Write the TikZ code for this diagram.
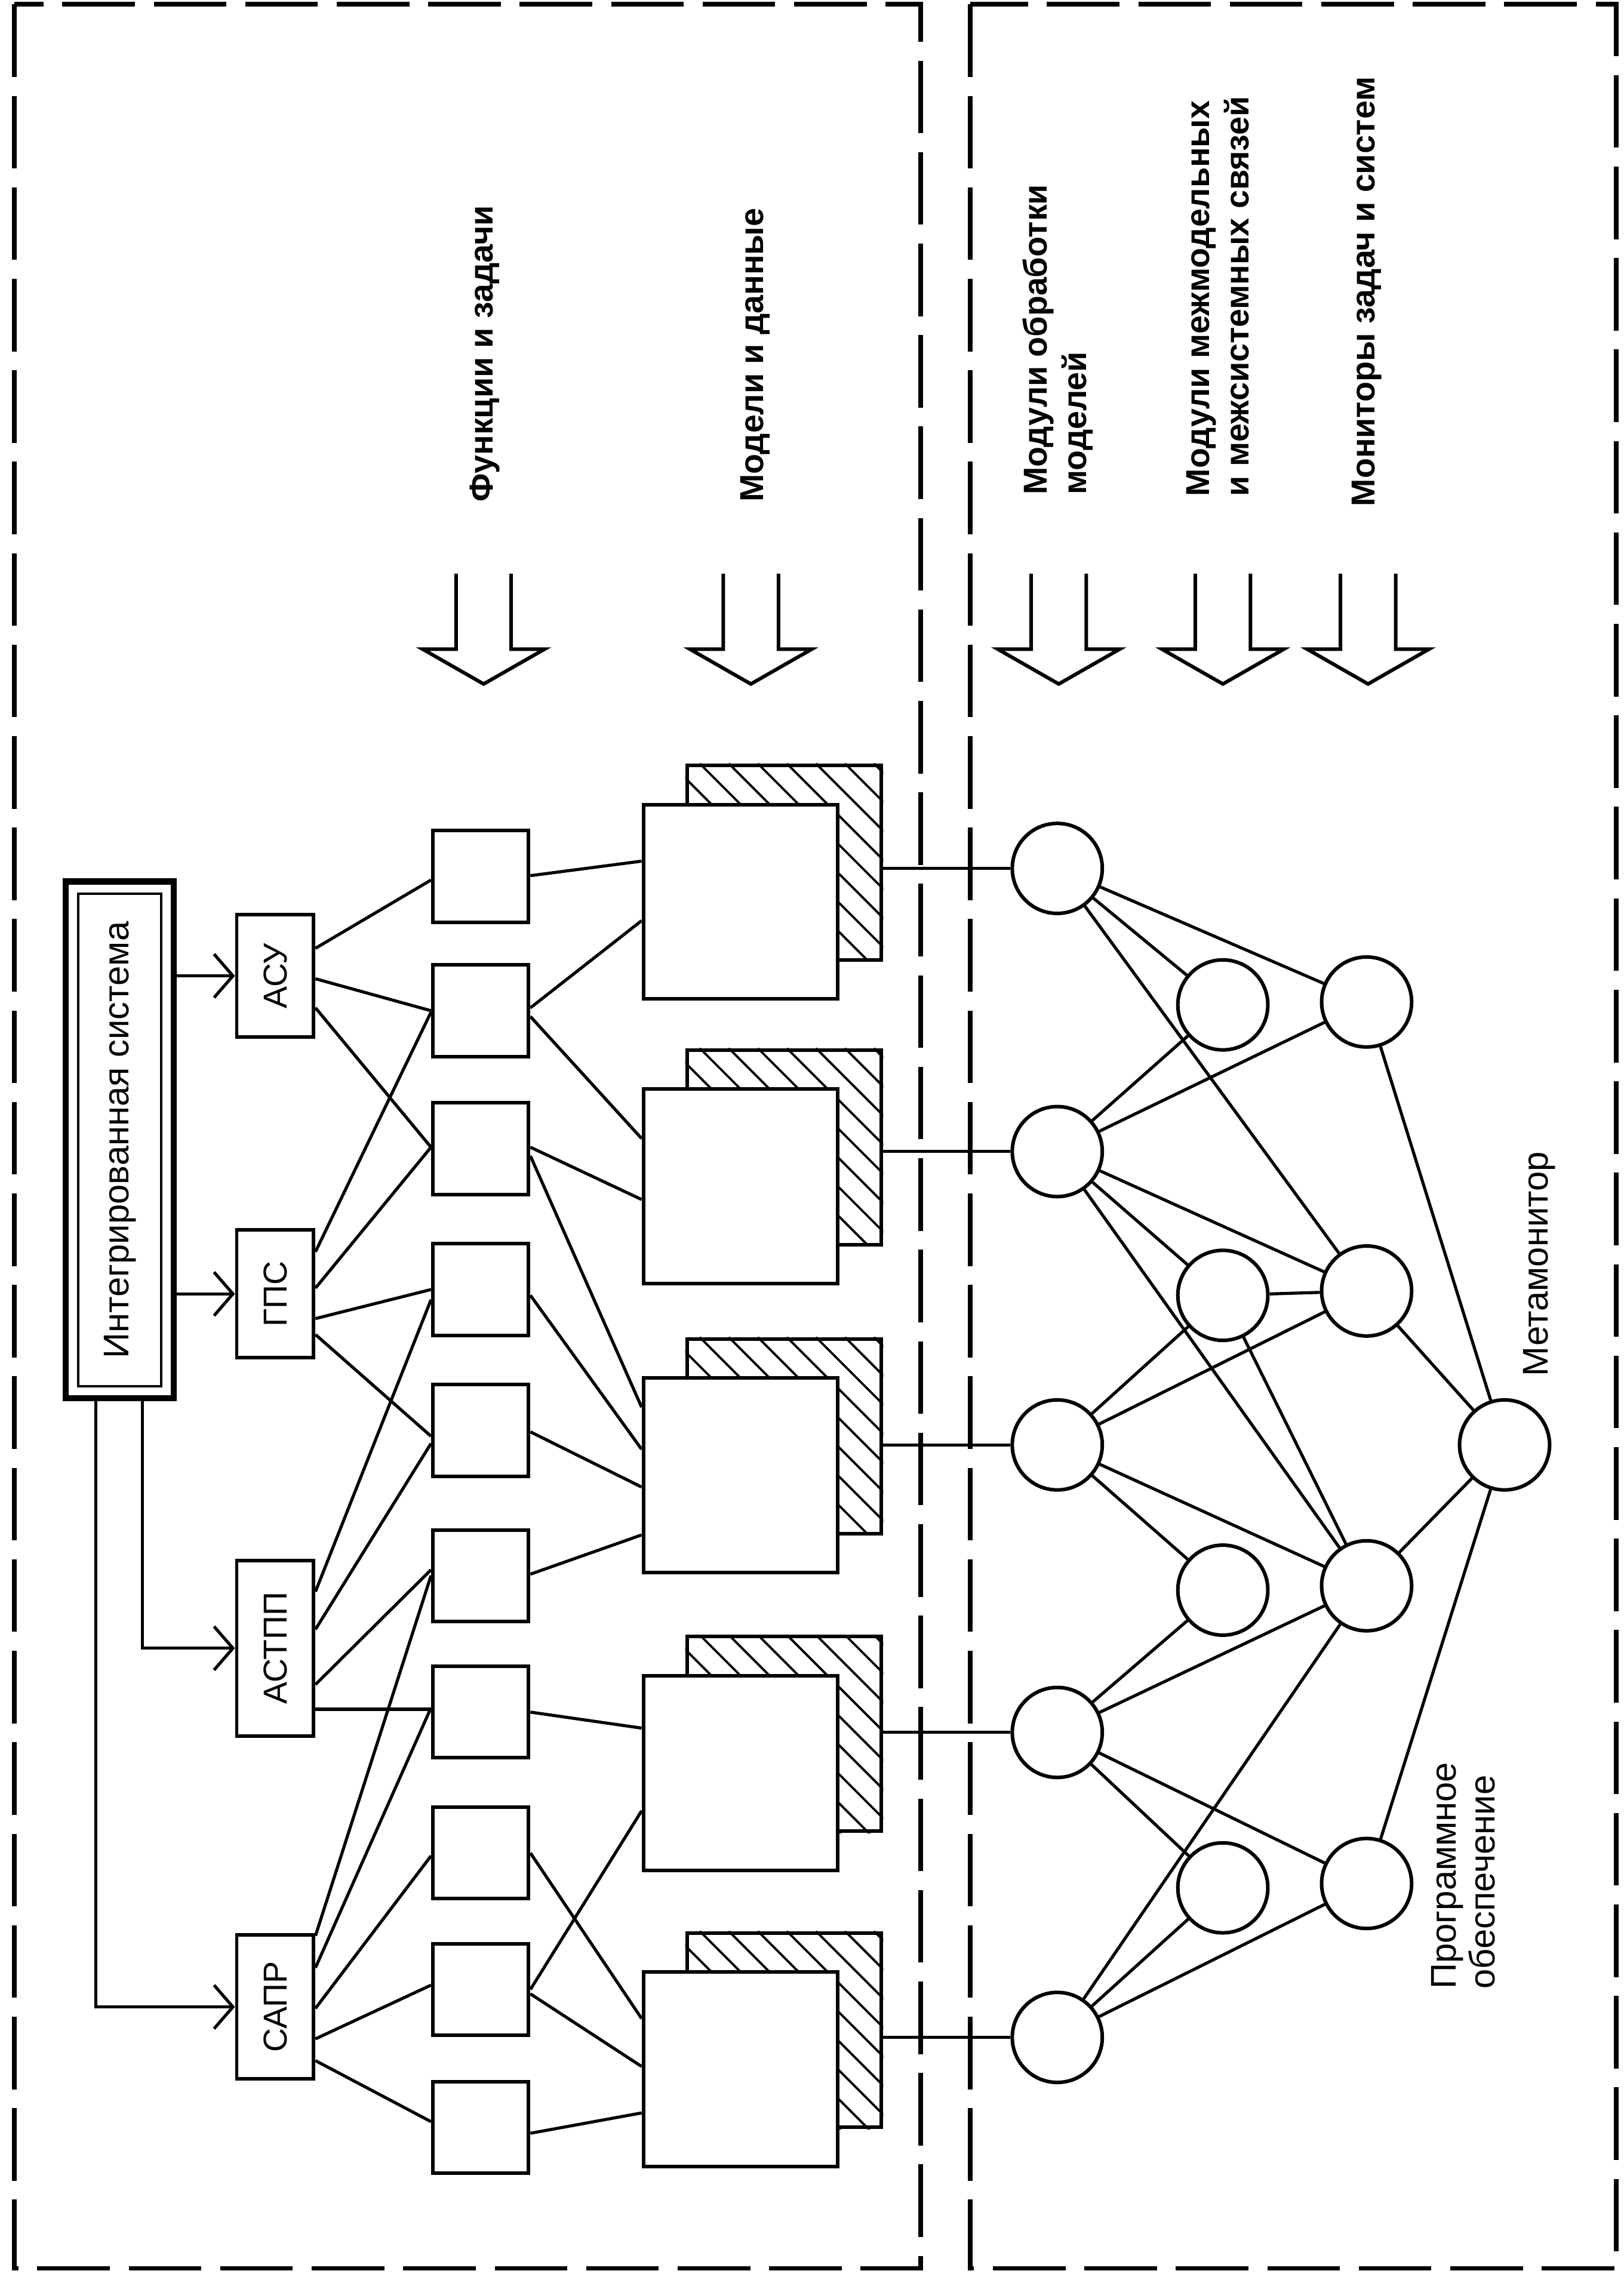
\documentclass[tikz,border=0pt]{standalone}
\usepackage{graphicx}
\usepackage{fontspec}
\setmainfont{Liberation Sans}
\usetikzlibrary{arrows.meta,calc}
\begin{document}
\begin{tikzpicture}[x=0.02cm,y=-0.02cm,
  frame/.style={line width=1.8pt, dash pattern=on 1.0cm off 0.26cm},
  conn/.style={line width=1.2pt},
  sysarrow/.style={conn, -{Straight Barb[length=0.26cm,width=0.6cm,line width=1.2pt]}},
  sysbox/.style={draw, line width=1.4pt, minimum width=1.06cm, inner sep=0pt, font=\fontsize{13pt}{15pt}\selectfont},
  fbox/.style={draw, line width=1.4pt, minimum width=1.32cm, minimum height=1.26cm, inner sep=0pt},
  modelbox/.style={draw, line width=1.4pt, minimum width=2.68cm, minimum height=2.68cm, inner sep=0pt},
  hatch/.style={line width=0.9pt},
  circ/.style={draw, circle, line width=1.4pt, minimum size=1.24cm, inner sep=0pt},
  blockarrow/.style={line width=1.4pt, line join=miter},
  lab/.style={rotate=90, anchor=west, inner sep=0pt, font=\bfseries\fontsize{13pt}{15.4pt}\selectfont},
  labr/.style={rotate=90, anchor=west, inner sep=0pt, font=\fontsize{14pt}{15.4pt}\selectfont}
]
\useasboundingbox (0,0) rectangle (1118,1568);

% dashed frames
\draw[frame] (10,3) rectangle (634,1562);
\draw[frame] (668,3) rectangle (1113,1562);

% integrated system
\node[draw, line width=2.4pt, minimum width=1.49cm, minimum height=7.12cm, inner sep=0pt] (IS) at (82.5,785) {};
\node[draw, line width=0.9pt, minimum width=1.14cm, minimum height=6.78cm, inner sep=0pt,
      font=\fontsize{14pt}{16pt}\selectfont] (ISin) at (82.5,785) {\rotatebox{90}{Интегрированная система}};

% system boxes
\node[sysbox, minimum height=1.68cm] (ASU) at (189.5,672) {\rotatebox{90}{АСУ}};
\node[sysbox, minimum height=1.76cm] (GPS) at (189.5,891) {\rotatebox{90}{ГПС}};
\node[sysbox, minimum height=2.42cm] (ASTPP) at (189.5,1135) {\rotatebox{90}{АСТПП}};
\node[sysbox, minimum height=1.98cm] (SAPR) at (189.5,1382) {\rotatebox{90}{САПР}};

\draw[sysarrow] (IS.east |- ASU) -- (ASU.west);
\draw[sysarrow] (IS.east |- GPS) -- (GPS.west);
\draw[sysarrow] (98,0 |- IS.south) |- (ASTPP.west);
\draw[sysarrow] (66,0 |- IS.south) |- (SAPR.west);

% function boxes
\foreach \i/\y in {1/603.5,2/696,3/791,4/888,5/985,6/1085,7/1179,8/1276,9/1370,10/1465}
  \node[fbox] (F\i) at (331,\y) {};

% model boxes
\foreach \i/\y in {1/621,2/817,3/1016,4/1221,5/1425}{
  \node[modelbox] (Mb\i) at (540,\y-27) {};
  \begin{scope}
    \clip (Mb\i.south west) rectangle (Mb\i.north east);
    \foreach \k in {0,...,16}
      \draw[hatch] ($(Mb\i.north west)+(\k*20-150,0)$) -- ++(170,170);
  \end{scope}
  \node[modelbox, fill=white] (Mf\i) at (510,\y) {};
}

% circles
\foreach \n/\x/\y in {A1/728/598, A2/728/793, A3/728/995, A4/728/1193, A5/728/1403,
                      B1/842/692, B2/842/892, B3/842/1095, B4/842/1300,
                      C1/941/690, C2/941/889, C3/941/1092, C4/941/1297,
                      MM/1036/995}
  \node[circ] (\n) at (\x,\y) {};

% system -> function
\draw[conn] (ASU.east |- 0,653) -- (F1.west |- 0,606);
\draw[conn] (ASU.east |- 0,674) -- (F2.west |- 0,696);
\draw[conn] (ASU.east |- 0,694) -- (F3.west |- 0,790);
\draw[conn] (GPS.east |- 0,862) -- (F2.west |- 0,697);
\draw[conn] (GPS.east |- 0,887) -- (F3.west |- 0,790);
\draw[conn] (GPS.east |- 0,908) -- (F4.west |- 0,888);
\draw[conn] (GPS.east |- 0,919) -- (F5.west |- 0,989);
\draw[conn] (ASTPP.east |- 0,1096) -- (F4.west |- 0,895);
\draw[conn] (ASTPP.east |- 0,1122) -- (F5.west |- 0,994);
\draw[conn] (ASTPP.east |- 0,1160) -- (F6.west |- 0,1081);
\draw[conn] (ASTPP.east |- 0,1177) -- (F7.west |- 0,1177);
\draw[conn] (SAPR.east |- 0,1333) -- (F6.west |- 0,1085);
\draw[conn] (SAPR.east |- 0,1355) -- (F7.west |- 0,1176);
\draw[conn] (SAPR.east |- 0,1383) -- (F8.west |- 0,1278);
\draw[conn] (SAPR.east |- 0,1404) -- (F9.west |- 0,1367);
\draw[conn] (SAPR.east |- 0,1419) -- (F10.west |- 0,1461);

% function -> model
\draw[conn] (F1.east |- 0,603) -- (Mf1.west |- 0,593);
\draw[conn] (F2.east |- 0,694) -- (Mf1.west |- 0,634);
\draw[conn] (F2.east |- 0,700) -- (Mf2.west |- 0,784);
\draw[conn] (F3.east |- 0,790) -- (Mf2.west |- 0,826);
\draw[conn] (F3.east |- 0,796) -- (Mf3.west |- 0,969);
\draw[conn] (F4.east |- 0,892) -- (Mf3.west |- 0,998);
\draw[conn] (F5.east |- 0,986) -- (Mf3.west |- 0,1024);
\draw[conn] (F6.east |- 0,1084) -- (Mf3.west |- 0,1057);
\draw[conn] (F7.east |- 0,1179) -- (Mf4.west |- 0,1190);
\draw[conn] (F8.east |- 0,1276) -- (Mf5.west |- 0,1390);
\draw[conn] (F9.east |- 0,1370) -- (Mf4.west |- 0,1247);
\draw[conn] (F9.east |- 0,1373) -- (Mf5.west |- 0,1423);
\draw[conn] (F10.east |- 0,1469) -- (Mf5.west |- 0,1455);

% model -> circles
\foreach \i in {1,...,5}
  \draw[conn] (Mb\i.east |- A\i) -- (A\i);

% circle network
\foreach \a/\b in {A1/B1, A1/C1, A1/C2, A2/B1, A2/C1, A2/B2, A2/C2, A2/C3,
                   B2/C2, B2/C3, B2/A3, C2/A3, A3/B3, A3/C3, B3/A4, C3/A4, C3/A5,
                   A4/B4, A4/C4, B4/A5, C4/A5, MM/C1, MM/C2, MM/C3, MM/C4}
  \draw[conn] (\a) -- (\b);

% block arrows
\foreach \c in {333,517,729,842,942}
  \draw[blockarrow] (\c-19,395) -- (\c-19,447) -- (\c-42,447) -- (\c,471)
                    -- (\c+42,447) -- (\c+19,447) -- (\c+19,395);

% labels
\node[lab] (lf) at (334,346) {Функции и задачи};
\node[lab] (lmd) at (520,346) {Модели и данные};
\node[lab, align=left] (lmo) at (728.5,341) {Модули обработки\\моделей};
\node[lab, align=left] (lmm) at (838.5,342) {Модули межмодельных\\и межсистемных связей};
\node[lab] (lmon) at (941,349) {Мониторы задач и систем};
\node[labr] (lmeta) at (1060,948) {Метамонитор};
\node[labr, align=left] (lpo) at (1007.5,1370) {Программное\\обеспечение};
\end{tikzpicture}
\end{document}
